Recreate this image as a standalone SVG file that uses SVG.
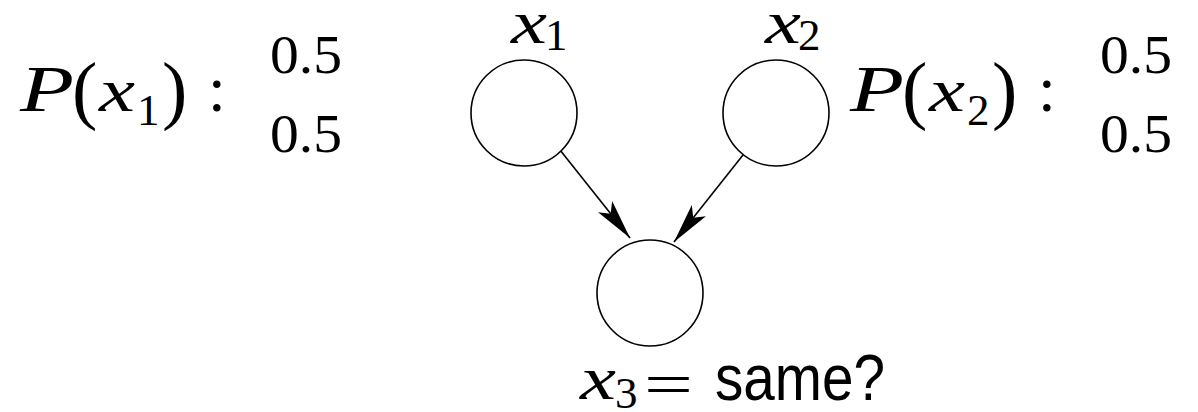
<svg xmlns="http://www.w3.org/2000/svg" width="1198" height="412" viewBox="0 0 1198 412">
<style>
.node{fill:#fff;stroke:#000;stroke-width:1.6}
.edge{stroke:#000;stroke-width:1.6;fill:none}
.it{font-family:"Liberation Serif",serif;font-style:italic;fill:#000}
.rm{font-family:"Liberation Serif",serif;fill:#000}
.sf{font-family:"Liberation Sans",sans-serif;fill:#000}
</style>
<defs>
<marker id="stealth" markerUnits="userSpaceOnUse" viewBox="-42 -11 43 22" refX="0" refY="0" markerWidth="43" markerHeight="22" orient="auto">
<path d="M0,0 L-40,-9 L-31,0 L-40,9 Z" fill="#000"/>
</marker>
</defs>
<rect width="1198" height="412" fill="#fff"/>
<g id="connectors">
<line class="edge" x1="560" y1="150" x2="630" y2="238" marker-end="url(#stealth)"/>
<line class="edge" x1="743" y1="155" x2="674" y2="242" marker-end="url(#stealth)"/>
</g>
<g id="node-x1">
<circle class="node" cx="524" cy="113" r="53"/>
<text class="it" x="511" y="43" font-size="62" textLength="36" lengthAdjust="spacingAndGlyphs">x</text>
<text class="rm" x="545" y="50" font-size="45">1</text>
</g>
<g id="node-x2">
<circle class="node" cx="776" cy="113" r="53"/>
<text class="it" x="765" y="43" font-size="62" textLength="36" lengthAdjust="spacingAndGlyphs">x</text>
<text class="rm" x="798" y="50" font-size="45">2</text>
</g>
<g id="node-x3">
<circle class="node" cx="650" cy="293" r="53"/>
<text class="it" x="580" y="399" font-size="62" textLength="36" lengthAdjust="spacingAndGlyphs">x</text>
<text class="rm" x="615" y="408" font-size="45">3</text>
<text class="rm" x="644" y="404" font-size="60" textLength="49" lengthAdjust="spacingAndGlyphs">=</text>
<text class="sf" x="715" y="400" font-size="64" textLength="170" lengthAdjust="spacingAndGlyphs">same?</text>
</g>
<g id="prob-x1">
<text class="it" x="20" y="111" font-size="66" textLength="54" lengthAdjust="spacingAndGlyphs">P</text>
<text class="rm" x="72" y="115" font-size="76">(</text>
<text class="it" x="99" y="111" font-size="62" textLength="36" lengthAdjust="spacingAndGlyphs">x</text>
<text class="rm" x="137" y="125" font-size="45">1</text>
<text class="rm" x="162" y="115" font-size="76">)</text>
<text class="rm" x="208" y="111" font-size="64">:</text>
<text class="rm" x="270" y="73" font-size="55" textLength="72" lengthAdjust="spacingAndGlyphs">0.5</text>
<text class="rm" x="270" y="152" font-size="55" textLength="72" lengthAdjust="spacingAndGlyphs">0.5</text>
</g>
<g id="prob-x2">
<text class="it" x="850" y="111" font-size="66" textLength="54" lengthAdjust="spacingAndGlyphs">P</text>
<text class="rm" x="902" y="115" font-size="76">(</text>
<text class="it" x="929" y="111" font-size="62" textLength="36" lengthAdjust="spacingAndGlyphs">x</text>
<text class="rm" x="967" y="125" font-size="45">2</text>
<text class="rm" x="992" y="115" font-size="76">)</text>
<text class="rm" x="1038" y="111" font-size="64">:</text>
<text class="rm" x="1100" y="73" font-size="55" textLength="72" lengthAdjust="spacingAndGlyphs">0.5</text>
<text class="rm" x="1100" y="152" font-size="55" textLength="72" lengthAdjust="spacingAndGlyphs">0.5</text>
</g>
</svg>
